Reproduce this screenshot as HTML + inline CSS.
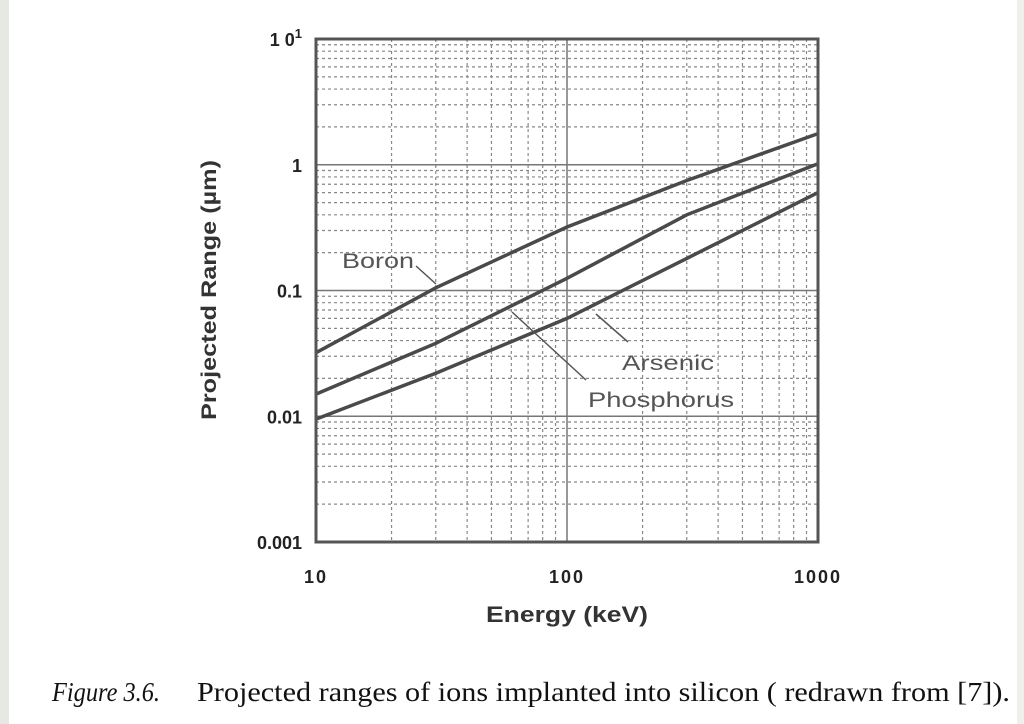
<!DOCTYPE html>
<html><head><meta charset="utf-8"><style>
body{margin:0;background:#fff}
svg{display:block}
</style></head><body>
<svg id="chart" width="1024" height="724" viewBox="0 0 1024 724" xmlns="http://www.w3.org/2000/svg" font-family="Liberation Sans, sans-serif">
<rect x="0" y="0" width="1024" height="724" fill="#fff"/>
<rect x="0" y="0" width="9" height="724" fill="#e6e9e2"/>
<rect x="1017" y="0" width="7" height="724" fill="#eef0ec"/>
<g id="grid"></g>
<g id="series"></g>
<rect x="316" y="39" width="502" height="503" fill="none" stroke="#555" stroke-width="3"/>
<g id="ticks" font-size="18" font-weight="bold" fill="#222"></g>
<text transform="translate(216,290) rotate(-90)" text-anchor="middle" font-size="21" font-weight="bold" fill="#333" textLength="260" lengthAdjust="spacingAndGlyphs">Projected Range (µm)</text>
<text x="567" y="622" text-anchor="middle" font-size="22" font-weight="bold" fill="#333" textLength="162" lengthAdjust="spacingAndGlyphs">Energy (keV)</text>
<g font-size="21" fill="#555" stroke="#555">
<text x="342" y="268" stroke="none" textLength="72" lengthAdjust="spacingAndGlyphs">Boron</text>
<line x1="416" y1="266" x2="436" y2="284" stroke-width="1.5"/>
<text x="622" y="370" stroke="none" textLength="92" lengthAdjust="spacingAndGlyphs">Arsenic</text>
<line x1="596" y1="314" x2="628" y2="342" stroke-width="1.5"/>
<text x="588" y="407" stroke="none" textLength="146" lengthAdjust="spacingAndGlyphs">Phosphorus</text>
<line x1="512" y1="312" x2="586" y2="380" stroke-width="1.5"/>
</g>
<text x="52" y="701" font-family="Liberation Serif, serif" font-style="italic" font-size="27" fill="#111" textLength="108" lengthAdjust="spacingAndGlyphs">Figure 3.6.</text>
<text x="197" y="701" font-family="Liberation Serif, serif" font-size="27" fill="#111" textLength="813" lengthAdjust="spacingAndGlyphs">Projected ranges of ions implanted into silicon ( redrawn from [7]).</text>
</svg>
<script>
const energies = [10, 30, 100, 300, 1000];
const boron = [0.032, 0.105, 0.32, 0.75, 1.77];
const phosphorus = [0.015, 0.038, 0.125, 0.4, 1.02];
const arsenic = [0.0095, 0.022, 0.06, 0.18, 0.6];
const xTickValues = [10, 100, 1000];
const xTickLabels = ["10", "100", "1000"];
const yTickValues = [0.001, 0.01, 0.1, 1, 10];
const yTickLabels = ["0.001", "0.01", "0.1", "1", "10"];

const NS = "http://www.w3.org/2000/svg";
const X0 = 316, X1 = 818, Y0 = 542, Y1 = 39;
function xs(v){ return X0 + (Math.log10(v) - 1) / 2 * (X1 - X0); }
function ys(v){ return Y0 - (Math.log10(v) + 3) / 4 * (Y0 - Y1); }
function mk(tag, attrs, parent){ const e = document.createElementNS(NS, tag); for (const k in attrs) e.setAttribute(k, attrs[k]); parent.appendChild(e); return e; }

const grid = document.getElementById('grid');
for (let d = 1; d <= 2; d++) for (let m = 1; m <= 9; m++) {
  const v = Math.pow(10, d) * m; const x = xs(v);
  if (x >= X1 - 1) continue;
  const major = m === 1;
  const l = mk('line', {x1: x, x2: x, y1: Y1, y2: Y0, stroke: major ? '#777' : '#888', 'stroke-width': major ? 1.5 : 1.2, 'stroke-dasharray': major ? '' : '3,3'}, grid);
  
  
}
for (let d = -3; d <= 0; d++) for (let m = 1; m <= 9; m++) {
  const v = Math.pow(10, d) * m; const y = ys(v);
  const major = m === 1;
  const l = mk('line', {x1: X0, x2: X1, y1: y, y2: y, stroke: major ? '#777' : '#888', 'stroke-width': major ? 1.5 : 1.2, 'stroke-dasharray': major ? '' : '3,3'}, grid);
  
  
}

const seriesG = document.getElementById('series');
[[boron, 'boron-line'], [phosphorus, 'phosphorus-line'], [arsenic, 'arsenic-line']].forEach(([vals, name]) => {
  const pts = energies.map((e, i) => xs(e).toFixed(1) + ',' + ys(vals[i]).toFixed(1)).join(' ');
  const p = mk('polyline', {points: pts, fill: 'none', stroke: '#4a4a4a', 'stroke-width': 3.5}, seriesG);
  
  
});

const ticks = document.getElementById('ticks');
xTickValues.forEach((v, i) => {
  const t = mk('text', {x: xs(v), y: 583, 'text-anchor': 'middle', 'letter-spacing': '2'}, ticks);
  t.textContent = xTickLabels[i];
  
  
});
yTickValues.forEach((v, i) => {
  const t = mk('text', {x: 302, y: ys(v) + 7, 'text-anchor': 'end'}, ticks);
  if (yTickLabels[i] === "10") {
    t.textContent = "1 0";
    const s = mk('tspan', {dy: -8, 'font-size': 13}, t);
    s.textContent = "1";
  } else t.textContent = yTickLabels[i];
  
  
});
</script>
</body></html>
